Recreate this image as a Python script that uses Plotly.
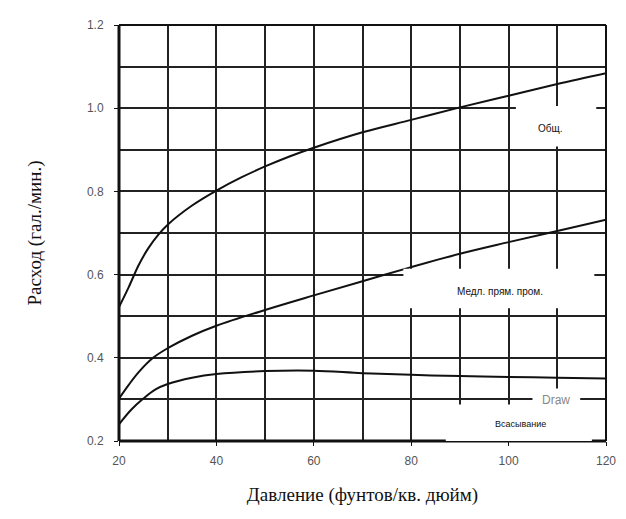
import plotly.graph_objects as go

total_x = [20, 22, 24, 26, 28, 30, 35, 40, 45, 50, 55, 60, 70, 80, 90, 100, 110, 120]
total_y = [0.522, 0.57, 0.622, 0.663, 0.695, 0.72, 0.766, 0.802, 0.833, 0.860, 0.884, 0.905, 0.942, 0.972, 1.002, 1.03, 1.058, 1.084]
slow_x = [20, 22, 24, 27, 30, 35, 40, 50, 60, 70, 80, 90, 100, 110, 120]
slow_y = [0.302, 0.335, 0.365, 0.40, 0.423, 0.453, 0.477, 0.515, 0.55, 0.584, 0.618, 0.65, 0.678, 0.705, 0.732]
draw_x = [20, 22.5, 25, 27.5, 30, 35, 40, 50, 60, 70, 80, 90, 100, 110, 120]
draw_y = [0.24, 0.275, 0.302, 0.324, 0.337, 0.352, 0.361, 0.368, 0.369, 0.363, 0.359, 0.356, 0.354, 0.352, 0.35]

x_title = "Давление (фунтов/кв. дюйм)"
y_title = "Расход (гал./мин.)"
labels = ["Общ.", "Медл. прям. пром.", "Draw", "Всасывание"]

fig = go.Figure()
for xs, ys in ((total_x, total_y), (slow_x, slow_y), (draw_x, draw_y)):
    fig.add_trace(go.Scatter(x=xs, y=ys, mode="lines",
                             line=dict(color="#111", width=2, shape="spline", smoothing=1.0),
                             showlegend=False, hoverinfo="skip"))

# frame (left/bottom heavier)
frame = [(0, 0, 0, 1, 3), (0, 1, 0, 0, 3), (0, 1, 1, 1, 2), (1, 1, 0, 1, 2)]
for x0, x1, y0, y1, w in frame:
    fig.add_shape(type="line", x0=x0, x1=x1, y0=y0, y1=y1, xref="x domain", yref="y domain",
                  layer="above", line=dict(color="#111", width=w))

# white label boxes that interrupt the grid
boxes = [(101.5, 118.0, 0.908, 1.005), (78.4, 117.6, 0.519, 0.614),
         (104.9, 114.7, 0.288, 0.326), (87.1, 117.1, 0.19, 0.288)]
for x0, x1, y0, y1 in boxes:
    fig.add_shape(type="rect", x0=x0, x1=x1, y0=y0, y1=y1, xref="x", yref="y", layer="above",
                  fillcolor="white", line=dict(width=0))

ann = [(labels[0], 108.7, 0.951, "#111", 10), (labels[1], 98.2, 0.560, "#111", 10),
       (labels[2], 109.8, 0.298, "#888", 12), (labels[3], 102.4, 0.240, "#111", 9)]
for t, x, y, c, s in ann:
    fig.add_annotation(x=x, y=y, text=t, showarrow=False, font=dict(family="Liberation Sans, Arial", size=s, color=c))

fig.update_layout(
    width=618, height=511, margin=dict(l=111, r=17, t=10, b=78),
    paper_bgcolor="white", plot_bgcolor="white",
    xaxis=dict(range=[20, 120], dtick=20, tick0=20, showgrid=True, gridcolor="#222", gridwidth=1.5,
               minor=dict(dtick=10, showgrid=True, gridcolor="#222", gridwidth=1.5),
               showline=False, ticks="outside", ticklen=4, tickcolor="#111",
               ticklabelstandoff=5,
               tickfont=dict(family="Liberation Sans, Arial", size=12, color="#555"), zeroline=False,
               title=dict(text=x_title, font=dict(family="Liberation Serif, Times New Roman", size=19, color="#111"), standoff=20)),
    yaxis=dict(range=[0.2, 1.2], dtick=0.2, tick0=0.2, tickformat=".1f", showgrid=True, gridcolor="#222", gridwidth=1.5,
               minor=dict(dtick=0.1, showgrid=True, gridcolor="#222", gridwidth=1.5),
               showline=False, ticks="outside", ticklen=4, tickcolor="#111",
               ticklabelstandoff=8,
               tickfont=dict(family="Liberation Sans, Arial", size=12, color="#555"), zeroline=False,
               title=dict(text=y_title, font=dict(family="Liberation Serif, Times New Roman", size=19, color="#111"), standoff=40)),
)
fig.write_html("out.html")
